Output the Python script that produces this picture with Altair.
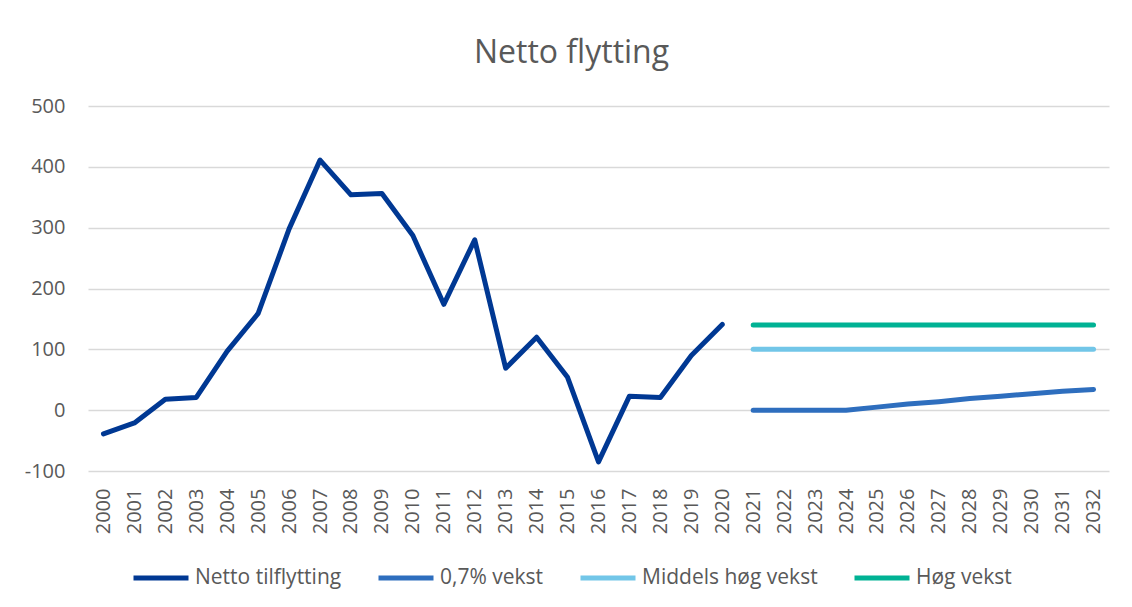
import altair as alt
import pandas as pd

FONT = "Open Sans"
TXT = "#595959"

hist_years = list(range(2000, 2021))
netto = [-39, -21, 18, 21, 97, 159, 298, 411, 354, 356, 287, 174, 280,
         69, 120, 54, -85, 23, 21, 90, 141]

proj_years = list(range(2021, 2033))
vekst_07 = [0, 0, 0, 0, 5, 10, 14, 19, 23, 27, 31, 34]
middels = [100] * 12
hoeg = [140] * 12

series_names = ["Netto tilflytting", "0,7% vekst", "Middels høg vekst", "Høg vekst"]
series_colors = ["#003893", "#2E6EBE", "#72C6E8", "#00B294"]
series_widths = [5, 5, 5, 3.5]

all_years = [str(y) for y in range(2000, 2033)]

rows = []
for y, v in zip(hist_years, netto):
    rows.append({"serie": series_names[0], "år": str(y), "verdi": v})
for name, vals in zip(series_names[1:], [vekst_07, middels, hoeg]):
    for y, v in zip(proj_years, vals):
        rows.append({"serie": name, "år": str(y), "verdi": v})
df = pd.DataFrame(rows)

chart = alt.Chart(df).mark_line(strokeCap="round", strokeJoin="round").encode(
    x=alt.X("år:N", sort=all_years,
            scale=alt.Scale(type="point", domain=all_years, padding=0.5),
            axis=alt.Axis(title=None, labelAngle=270, labelFontSize=20,
                          labelFont=FONT, labelColor=TXT, ticks=False,
                          domain=False, grid=False, labelPadding=17)),
    y=alt.Y("verdi:Q",
            scale=alt.Scale(domain=[-100, 500], nice=False),
            axis=alt.Axis(title=None, values=[-100, 0, 100, 200, 300, 400, 500],
                          labelExpr="datum.value + ''",
                          labelFontSize=20, labelFont=FONT, labelColor=TXT,
                          ticks=False, domain=False, grid=True,
                          gridColor="#D9D9D9", gridWidth=1.5, labelPadding=23)),
    color=alt.Color("serie:N",
                    scale=alt.Scale(domain=series_names, range=series_colors),
                    legend=alt.Legend(title=None, orient="none", legendX=43,
                                      legendY=442, direction="horizontal",
                                      symbolType="stroke", symbolSize=3025,
                                      symbolStrokeWidth=5, labelFontSize=21,
                                      labelFont=FONT, labelColor=TXT,
                                      labelLimit=400,
                                      columnPadding=26, labelOffset=4,
                                      padding=0)),
    strokeWidth=alt.StrokeWidth("serie:N",
                                scale=alt.Scale(domain=series_names, range=series_widths),
                                legend=None),
    detail="serie:N",
).properties(
    width=1021,
    height=365,
    background="white",
    padding={"left": 16, "top": 29, "right": 15, "bottom": 5},
    title=alt.TitleParams("Netto flytting", fontSize=32, font=FONT, color=TXT,
                          fontWeight="normal", anchor="middle", dx=-27, offset=26),
).configure_view(stroke=None)

chart.save("out.html", embed_options={"renderer": "svg", "actions": False})
